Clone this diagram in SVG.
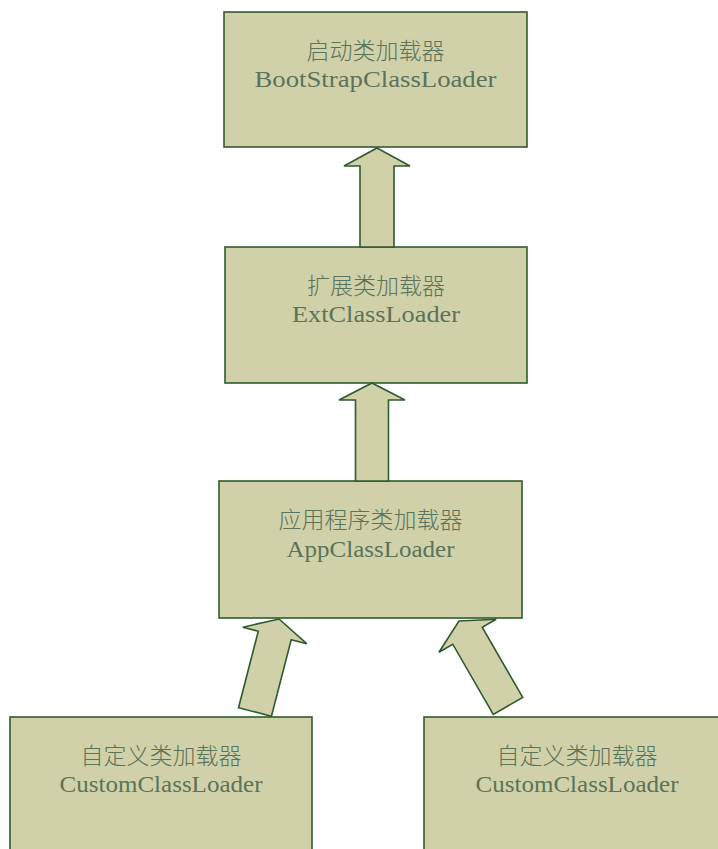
<svg xmlns="http://www.w3.org/2000/svg" width="718" height="849" viewBox="0 0 718 849">
<defs>
<style>
.box{fill:#d1d1a9;stroke:#2f5a2f;stroke-width:1.6}
.arrow{fill:#d1d1a9;stroke:#2f5a2f;stroke-width:1.6;stroke-linejoin:miter}
.cn{font-family:"Noto Sans CJK SC","Noto Sans CJK JP",sans-serif;font-size:23px;font-weight:300;fill:#5a735a;text-anchor:middle}
.en{font-family:"Liberation Serif","DejaVu Serif",serif;font-size:23px;fill:#5a735a;text-anchor:middle}
</style>
</defs>
<rect width="718" height="849" fill="#ffffff"/>
<g id="node-bootstrap">
<rect class="box" x="224" y="12" width="303" height="135"/>
<text class="cn" x="375.5" y="59">启动类加载器</text>
<text class="en" x="375.5" y="87" textLength="242" lengthAdjust="spacingAndGlyphs">BootStrapClassLoader</text>
</g>
<g id="node-ext">
<rect class="box" x="225" y="247" width="302" height="136"/>
<text class="cn" x="376" y="294">扩展类加载器</text>
<text class="en" x="376" y="322" textLength="168" lengthAdjust="spacingAndGlyphs">ExtClassLoader</text>
</g>
<g id="node-app">
<rect class="box" x="219" y="481" width="303" height="137"/>
<text class="cn" x="370.5" y="528">应用程序类加载器</text>
<text class="en" x="370.5" y="557" textLength="168" lengthAdjust="spacingAndGlyphs">AppClassLoader</text>
</g>
<g id="node-custom-1">
<rect class="box" x="10" y="717" width="302" height="150"/>
<text class="cn" x="161" y="764">自定义类加载器</text>
<text class="en" x="161" y="792" textLength="203" lengthAdjust="spacingAndGlyphs">CustomClassLoader</text>
</g>
<g id="node-custom-2">
<rect class="box" x="424" y="717" width="306" height="150"/>
<text class="cn" x="577" y="764">自定义类加载器</text>
<text class="en" x="577" y="792" textLength="203" lengthAdjust="spacingAndGlyphs">CustomClassLoader</text>
</g>
<g id="connectors">
<polygon class="arrow" transform="translate(377,148)" points="0,0 33,18 17,18 17,99 -17,99 -17,18 -33,18"/>
<polygon class="arrow" transform="translate(372,383)" points="0,0 33,17 16.5,17 16.5,98 -16.5,98 -16.5,17 -33,17"/>
<polygon class="arrow" transform="translate(279,619) rotate(14.5)" points="0,0 33,17 17,17 17,96 -17,96 -17,17 -33,17"/>
<polygon class="arrow" transform="translate(459,621) rotate(-30)" points="0,0 33,17 17,17 17,98 -17,98 -17,17 -33,17"/>
</g>
</svg>
